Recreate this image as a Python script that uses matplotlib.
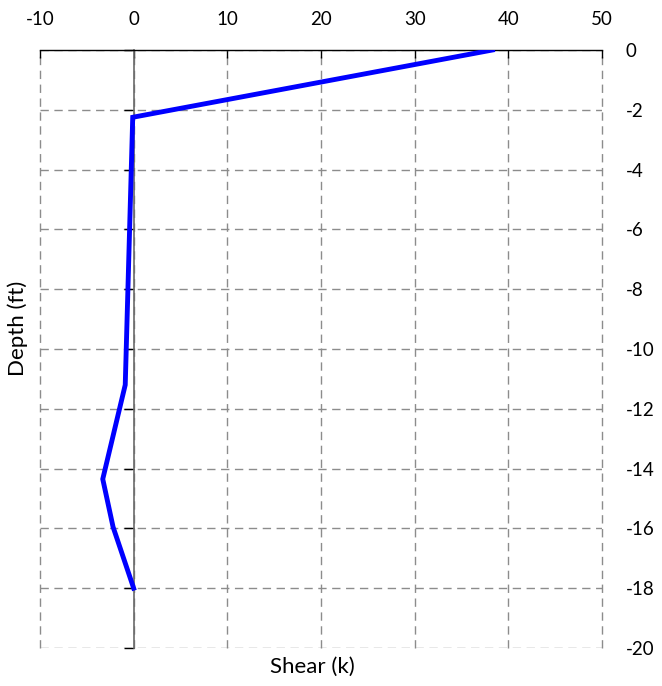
import matplotlib
matplotlib.use("Agg")
import matplotlib.pyplot as plt

shear = [38.3, -0.1, -0.9, -3.3, -2.2, 0.0]
depth = [0.0, -2.25, -11.2, -14.35, -15.95, -18.0]
x_ticks = [-10, 0, 10, 20, 30, 40, 50]
y_ticks = [0, -2, -4, -6, -8, -10, -12, -14, -16, -18, -20]

plt.rcParams['font.family'] = ['Lato', 'DejaVu Sans']
fig = plt.figure(figsize=(6.62, 6.86), dpi=100)
ax = fig.add_axes([40/662, 1-648/686, 562/662, 598/686])

ax.set_xlim(-10, 50)
ax.set_ylim(-20, 0)
ax.set_xticks(x_ticks)
ax.set_yticks(y_ticks)
ax.set_xticklabels([str(v) for v in x_ticks])
ax.set_yticklabels([str(v) for v in y_ticks])

ax.grid(True, color='#8c8c8c', linestyle=(0, (6, 4)), linewidth=1.0)
ax.set_axisbelow(True)
for gl in ax.get_xgridlines() + ax.get_ygridlines():
    gl.set_clip_on(False)

for s in ['right', 'bottom']:
    ax.spines[s].set_visible(False)
ax.spines['top'].set_color('black')
ax.spines['top'].set_linewidth(1.0)
ax.spines['top'].set_zorder(3)
ax.spines['left'].set_position(('data', 0))
ax.spines['left'].set_color('#6a6a6a')
ax.spines['left'].set_linewidth(1.2)

ax.xaxis.set_ticks_position('top')
ax.tick_params(axis='x', direction='in', length=6, width=1, pad=16,
               labelsize=13.5, color='black', labelcolor='black', top=True, bottom=False,
               labeltop=True, labelbottom=False)
ax.tick_params(axis='y', direction='out', length=7, width=1, pad=10,
               labelsize=13.5, color='black', labelcolor='black',
               left=True, right=False, labelleft=False, labelright=True)

ax.plot(shear, depth, color='#0000ff', linewidth=3.5, solid_joinstyle='miter', zorder=5)

fig.text(312/662, 1-667/686, 'Shear (k)', ha='center', va='center', fontsize=16)
fig.text(18/662, 1-328/686, 'Depth (ft)', ha='center', va='center', fontsize=16, rotation=90)

fig.savefig('out.png', dpi=100)
